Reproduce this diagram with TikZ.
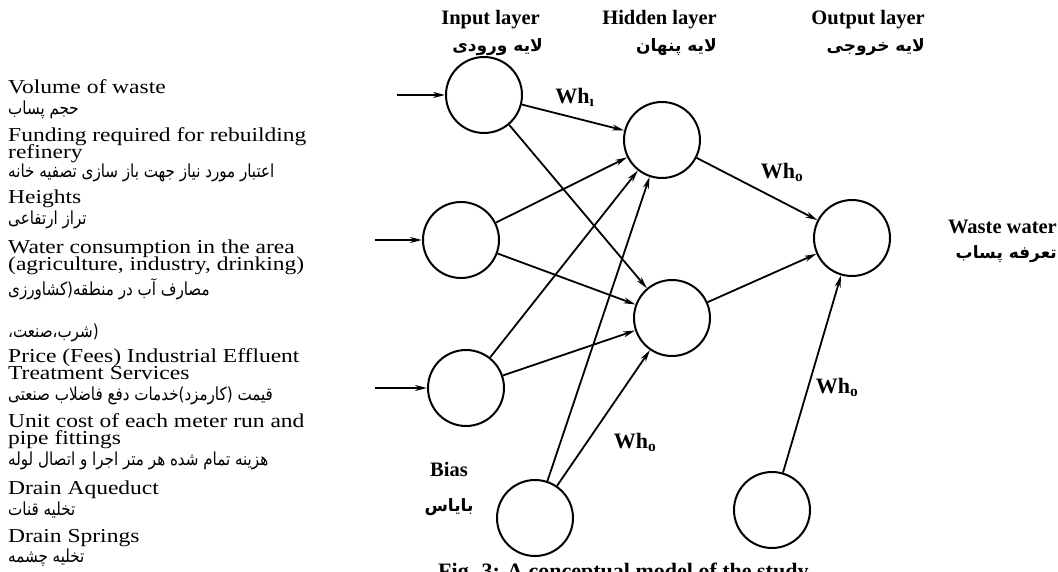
\documentclass[tikz,border=0pt]{standalone}
\usepackage{graphicx}
\usepackage{fontspec}
\setmainfont{Liberation Serif}
\newfontfamily\fafont[Script=Arabic]{DejaVu Sans}
\TeXXeTstate=1
\usetikzlibrary{arrows.meta}
\newcommand{\ensq}[1]{\scalebox{1}[0.84]{#1}}
\newcommand{\fasq}[1]{\scalebox{0.84}[1]{\fafont\beginR #1\endR}}
\begin{document}
\begin{tikzpicture}[x=1pt,y=-1pt,
  neuron/.style={circle,draw,line width=2pt,minimum size=76pt,inner sep=0pt},
  conn/.style={line width=1.8pt,-{Stealth[length=12pt,width=6pt]}},
  enline/.style={anchor=base west,inner sep=0pt,font=\fontsize{23.5}{23.5}\selectfont},
  faline/.style={anchor=base west,inner sep=0pt,font=\fontsize{18}{18}\selectfont},
  head/.style={anchor=base east,inner sep=0pt,font=\bfseries\fontsize{20.5}{20.5}\selectfont},
  fahead/.style={anchor=base east,inner sep=0pt,font=\fafont\bfseries\fontsize{17}{17}\selectfont},
  wlabel/.style={inner sep=0pt,font=\bfseries\fontsize{22}{22}\selectfont}]
\useasboundingbox (0,0) rectangle (1058,572);

% neurons
\node[neuron] (i1) at (484,95) {};
\node[neuron] (i2) at (461,240) {};
\node[neuron] (i3) at (466,388) {};
\node[neuron] (b1) at (535,518) {};
\node[neuron] (h1) at (662,140) {};
\node[neuron] (h2) at (672,318) {};
\node[neuron] (o1) at (852,238) {};
\node[neuron] (b2) at (772,510) {};

\coordinate (s1) at (397,95);
\coordinate (s2) at (375,240);
\coordinate (s3) at (375,388);

\draw[conn] (s1) -- (i1);
\draw[conn] (s2) -- (i2);
\draw[conn] (s3) -- (i3);
\draw[conn] (i1) -- (h1);
\draw[conn] (i1) -- (h2);
\draw[conn] (i2) -- (h1);
\draw[conn] (i2) -- (h2);
\draw[conn] (i3) -- (h1);
\draw[conn] (i3) -- (h2);
\draw[conn] (b1) -- (h1);
\draw[conn] (b1) -- (h2);
\draw[conn] (h1) -- (o1);
\draw[conn] (h2) -- (o1);
\draw[conn] (b2) -- (o1);

% weight labels
\node[wlabel] (wi) at (575,97) {Wh\textsubscript{ı}};
\node[wlabel] (wo1) at (782,172) {Wh\textsubscript{o}};
\node[wlabel] (wo2) at (635,442) {Wh\textsubscript{o}};
\node[wlabel] (wo3) at (837,387) {Wh\textsubscript{o}};

% headings
\node[head] (hin) at (540,25) {Input layer};
\node[fahead] (hinf) at (543,52) {\beginR لایه ورودی\endR};
\node[head] (hhid) at (717,25) {Hidden layer};
\node[fahead] (hhidf) at (717,52) {\beginR لایه پنهان\endR};
\node[head] (hout) at (925,25) {Output layer};
\node[fahead] (houtf) at (925,52) {\beginR لایه خروجی\endR};
\node[head] (ww) at (1057,234) {Waste water};
\node[fahead] (wwf) at (1057,259) {\beginR تعرفه پساب\endR};
\node[head,anchor=base] (bias) at (449,476) {Bias};
\node[fahead,anchor=base] (biasf) at (449,511) {\beginR بایاس\endR};

% caption (cut by the frame, as in the reference)
\node[anchor=base west,inner sep=0pt,font=\bfseries\fontsize{22}{22}\selectfont] (cap) at (438,578) {Fig. 3: A conceptual model of the study};

% left list
\node[enline] (t1) at (8,94) {\ensq{Volume of waste}};
\node[faline] (t2) at (8,115) {\fasq{حجم پساب}};
\node[enline] (t3) at (8,142) {\ensq{Funding required for rebuilding}};
\node[enline] (t4) at (8,159) {\ensq{refinery}};
\node[faline] (t5) at (8,178) {\fasq{اعتبار مورد نیاز جهت باز سازی تصفیه خانه}};
\node[enline] (t6) at (8,204) {\ensq{Heights}};
\node[faline] (t7) at (8,225) {\fasq{تراز ارتفاعی}};
\node[enline] (t8) at (8,254) {\ensq{Water consumption in the area}};
\node[enline] (t9) at (8,271) {\ensq{(agriculture, industry, drinking)}};
\node[faline] (t10) at (8,295) {\fasq{مصارف آب در منطقه(کشاورزی}};
\node[faline] (t11) at (8,337) {\fasq{(شرب،صنعت،}};
\node[enline] (t12) at (8,362) {\ensq{Price (Fees) Industrial Effluent}};
\node[enline] (t13) at (8,379) {\ensq{Treatment Services}};
\node[faline] (t14) at (8,400) {\fasq{قیمت (کارمزد)خدمات دفع فاضلاب صنعتی}};
\node[enline] (t15) at (8,427) {\ensq{Unit cost of each meter run and}};
\node[enline] (t16) at (8,444) {\ensq{pipe fittings}};
\node[faline] (t17) at (8,465) {\fasq{هزینه تمام شده هر متر اجرا و اتصال لوله}};
\node[enline] (t18) at (8,494) {\ensq{Drain Aqueduct}};
\node[faline] (t19) at (8,515) {\fasq{تخلیه قنات}};
\node[enline] (t20) at (8,542) {\ensq{Drain Springs}};
\node[faline] (t21) at (8,562) {\fasq{تخلیه چشمه}};
\end{tikzpicture}
\end{document}
